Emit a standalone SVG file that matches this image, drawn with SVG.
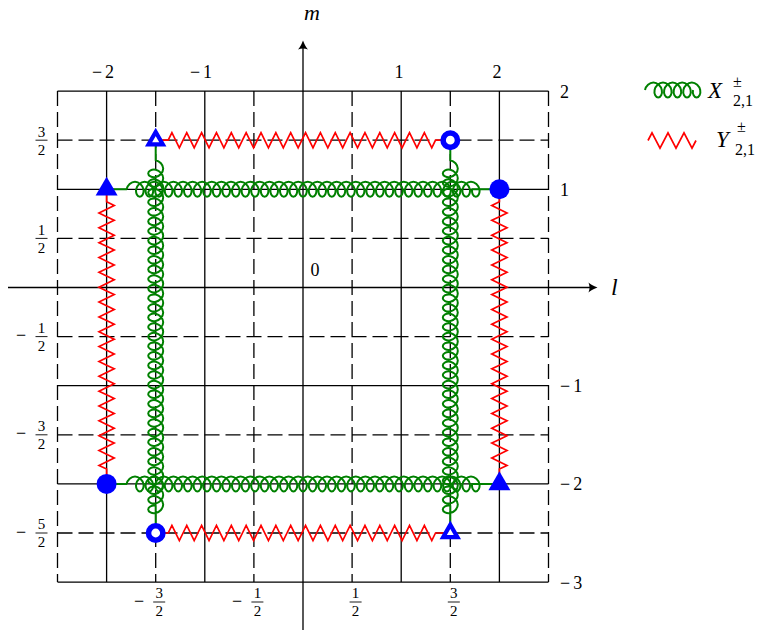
<svg xmlns="http://www.w3.org/2000/svg" width="768" height="630" viewBox="0 0 768 630">
<style>
.g{stroke:#000;stroke-width:1.3;fill:none}
.d{stroke-dasharray:15 6}
.coil{stroke:#008000;stroke-width:2;fill:none;stroke-linejoin:round}
.zig{stroke:#ff0000;stroke-width:1.7;fill:none}
.t{font-family:"Liberation Serif","Times New Roman",serif;font-size:18px;fill:#000}
.f{font-size:15px;text-anchor:middle}
.m{text-anchor:middle}
.i{font-style:italic}
.big{font-size:24px}
.ax{font-size:22px}
.lg{font-size:23px}
.sm{font-size:16px}
.bar{stroke:#000;stroke-width:0.9}
</style>
<defs>
<path id="coil" d="M0,0 H20
c0.8,-3.93 4.46,-7.5 8.4,-7.5 c3.94,0 7.6,3.57 8.4,7.5 c0.8,3.93 -1.26,7.5 -3.6,7.5 c-2.34,0 -4.4,-3.57 -3.6,-7.5 c0.8,-3.93 4.46,-7.5 8.4,-7.5 c3.94,0 7.6,3.57 8.4,7.5 c0.8,3.93 -1.26,7.5 -3.6,7.5 c-2.34,0 -4.4,-3.57 -3.6,-7.5 c0.8,-3.93 4.46,-7.5 8.4,-7.5 c3.94,0 7.6,3.57 8.4,7.5 c0.8,3.93 -1.26,7.5 -3.6,7.5 c-2.34,0 -4.4,-3.57 -3.6,-7.5 c0.8,-3.93 4.46,-7.5 8.4,-7.5 c3.94,0 7.6,3.57 8.4,7.5 c0.8,3.93 -1.26,7.5 -3.6,7.5 c-2.34,0 -4.4,-3.57 -3.6,-7.5 c0.8,-3.93 4.46,-7.5 8.4,-7.5 c3.94,0 7.6,3.57 8.4,7.5 c0.8,3.93 -1.26,7.5 -3.6,7.5 c-2.34,0 -4.4,-3.57 -3.6,-7.5 c0.8,-3.93 4.46,-7.5 8.4,-7.5 c3.94,0 7.6,3.57 8.4,7.5 c0.8,3.93 -1.26,7.5 -3.6,7.5 c-2.34,0 -4.4,-3.57 -3.6,-7.5
c0.8,-3.93 4.46,-7.5 8.4,-7.5 c3.94,0 7.6,3.57 8.4,7.5 c0.8,3.93 -1.26,7.5 -3.6,7.5 c-2.34,0 -4.4,-3.57 -3.6,-7.5 c0.8,-3.93 4.46,-7.5 8.4,-7.5 c3.94,0 7.6,3.57 8.4,7.5 c0.8,3.93 -1.26,7.5 -3.6,7.5 c-2.34,0 -4.4,-3.57 -3.6,-7.5 c0.8,-3.93 4.46,-7.5 8.4,-7.5 c3.94,0 7.6,3.57 8.4,7.5 c0.8,3.93 -1.26,7.5 -3.6,7.5 c-2.34,0 -4.4,-3.57 -3.6,-7.5 c0.8,-3.93 4.46,-7.5 8.4,-7.5 c3.94,0 7.6,3.57 8.4,7.5 c0.8,3.93 -1.26,7.5 -3.6,7.5 c-2.34,0 -4.4,-3.57 -3.6,-7.5 c0.8,-3.93 4.46,-7.5 8.4,-7.5 c3.94,0 7.6,3.57 8.4,7.5 c0.8,3.93 -1.26,7.5 -3.6,7.5 c-2.34,0 -4.4,-3.57 -3.6,-7.5 c0.8,-3.93 4.46,-7.5 8.4,-7.5 c3.94,0 7.6,3.57 8.4,7.5 c0.8,3.93 -1.26,7.5 -3.6,7.5 c-2.34,0 -4.4,-3.57 -3.6,-7.5
c0.8,-3.93 4.46,-7.5 8.4,-7.5 c3.94,0 7.6,3.57 8.4,7.5 c0.8,3.93 -1.26,7.5 -3.6,7.5 c-2.34,0 -4.4,-3.57 -3.6,-7.5 c0.8,-3.93 4.46,-7.5 8.4,-7.5 c3.94,0 7.6,3.57 8.4,7.5 c0.8,3.93 -1.26,7.5 -3.6,7.5 c-2.34,0 -4.4,-3.57 -3.6,-7.5 c0.8,-3.93 4.46,-7.5 8.4,-7.5 c3.94,0 7.6,3.57 8.4,7.5 c0.8,3.93 -1.26,7.5 -3.6,7.5 c-2.34,0 -4.4,-3.57 -3.6,-7.5 c0.8,-3.93 4.46,-7.5 8.4,-7.5 c3.94,0 7.6,3.57 8.4,7.5 c0.8,3.93 -1.26,7.5 -3.6,7.5 c-2.34,0 -4.4,-3.57 -3.6,-7.5 c0.8,-3.93 4.46,-7.5 8.4,-7.5 c3.94,0 7.6,3.57 8.4,7.5 c0.8,3.93 -1.26,7.5 -3.6,7.5 c-2.34,0 -4.4,-3.57 -3.6,-7.5 c0.8,-3.93 4.46,-7.5 8.4,-7.5 c3.94,0 7.6,3.57 8.4,7.5 c0.8,3.93 -1.26,7.5 -3.6,7.5 c-2.34,0 -4.4,-3.57 -3.6,-7.5
c0.8,-3.93 4.46,-7.5 8.4,-7.5 c3.94,0 7.6,3.57 8.4,7.5 c0.8,3.93 -1.26,7.5 -3.6,7.5 c-2.34,0 -4.4,-3.57 -3.6,-7.5 c0.8,-3.93 4.46,-7.5 8.4,-7.5 c3.94,0 7.6,3.57 8.4,7.5 c0.8,3.93 -1.26,7.5 -3.6,7.5 c-2.34,0 -4.4,-3.57 -3.6,-7.5 c0.8,-3.93 4.46,-7.5 8.4,-7.5 c3.94,0 7.6,3.57 8.4,7.5 c0.8,3.93 -1.26,7.5 -3.6,7.5 c-2.34,0 -4.4,-3.57 -3.6,-7.5 c0.8,-3.93 4.46,-7.5 8.4,-7.5 c3.94,0 7.6,3.57 8.4,7.5 c0.8,3.93 -1.26,7.5 -3.6,7.5 c-2.34,0 -4.4,-3.57 -3.6,-7.5 c0.8,-3.93 4.46,-7.5 8.4,-7.5 c3.94,0 7.6,3.57 8.4,7.5 c0.8,3.93 -1.26,7.5 -3.6,7.5 c-2.34,0 -4.4,-3.57 -3.6,-7.5 c0.8,-3.93 4.46,-7.5 8.4,-7.5 c3.94,0 7.6,3.57 8.4,7.5 c0.8,3.93 -1.26,7.5 -3.6,7.5 c-2.34,0 -4.4,-3.57 -3.6,-7.5
c0.8,-3.93 4.46,-7.5 8.4,-7.5 c3.94,0 7.6,3.57 8.4,7.5 c0.8,3.93 -1.26,7.5 -3.6,7.5 c-2.34,0 -4.4,-3.57 -3.6,-7.5 c0.8,-3.93 4.46,-7.5 8.4,-7.5 c3.94,0 7.6,3.57 8.4,7.5 c0.8,3.93 -1.26,7.5 -3.6,7.5 c-2.34,0 -4.4,-3.57 -3.6,-7.5 c0.8,-3.93 4.46,-7.5 8.4,-7.5 c3.94,0 7.6,3.57 8.4,7.5 c0.8,3.93 -1.26,7.5 -3.6,7.5 c-2.34,0 -4.4,-3.57 -3.6,-7.5 c0.8,-3.93 4.46,-7.5 8.4,-7.5 c3.94,0 7.6,3.57 8.4,7.5 c0.8,3.93 -1.26,7.5 -3.6,7.5 c-2.34,0 -4.4,-3.57 -3.6,-7.5 c0.8,-3.93 4.46,-7.5 8.4,-7.5 c3.94,0 7.6,3.57 8.4,7.5 c0.8,3.93 -1.26,7.5 -3.6,7.5 c-2.34,0 -4.4,-3.57 -3.6,-7.5 c0.8,-3.93 4.46,-7.5 8.4,-7.5 c3.94,0 7.6,3.57 8.4,7.5 c0.8,3.93 -1.26,7.5 -3.6,7.5 c-2.34,0 -4.4,-3.57 -3.6,-7.5
c0.8,-3.93 4.46,-7.5 8.4,-7.5 c3.94,0 7.6,3.57 8.4,7.5 c0.8,3.93 -1.26,7.5 -3.6,7.5 c-2.34,0 -4.4,-3.57 -3.6,-7.5 c0.8,-3.93 4.46,-7.5 8.4,-7.5 c3.94,0 7.6,3.57 8.4,7.5 c0.8,3.93 -1.26,7.5 -3.6,7.5 c-2.34,0 -4.4,-3.57 -3.6,-7.5 c0.8,-3.93 4.46,-7.5 8.4,-7.5 c3.94,0 7.6,3.57 8.4,7.5 c0.8,3.93 -1.26,7.5 -3.6,7.5 c-2.34,0 -4.4,-3.57 -3.6,-7.5 c0.8,-3.93 4.46,-7.5 8.4,-7.5 c3.94,0 7.6,3.57 8.4,7.5 c0.8,3.93 -1.26,7.5 -3.6,7.5 c-2.34,0 -4.4,-3.57 -3.6,-7.5 c0.8,-3.93 4.46,-7.5 8.4,-7.5 c3.94,0 7.6,3.57 8.4,7.5 c0.8,3.93 -1.26,7.5 -3.6,7.5 c-2.34,0 -4.4,-3.57 -3.6,-7.5 c0.8,-3.93 4.46,-7.5 8.4,-7.5 c3.94,0 7.6,3.57 8.4,7.5 c0.8,3.93 -1.26,7.5 -3.6,7.5 c-2.34,0 -4.4,-3.57 -3.6,-7.5
H392.8"/>
<path id="zig" d="M0,0 H12.5
l3.71,-7.6 7.43,15.2 3.71,-7.6 l3.71,-7.6 7.43,15.2 3.71,-7.6 l3.71,-7.6 7.43,15.2 3.71,-7.6 l3.71,-7.6 7.43,15.2 3.71,-7.6 l3.71,-7.6 7.43,15.2 3.71,-7.6 l3.71,-7.6 7.43,15.2 3.71,-7.6
l3.71,-7.6 7.43,15.2 3.71,-7.6 l3.71,-7.6 7.43,15.2 3.71,-7.6 l3.71,-7.6 7.43,15.2 3.71,-7.6 l3.71,-7.6 7.43,15.2 3.71,-7.6 l3.71,-7.6 7.43,15.2 3.71,-7.6 l3.71,-7.6 7.43,15.2 3.71,-7.6
l3.71,-7.6 7.43,15.2 3.71,-7.6 l3.71,-7.6 7.43,15.2 3.71,-7.6 l3.71,-7.6 7.43,15.2 3.71,-7.6 l3.71,-7.6 7.43,15.2 3.71,-7.6 l3.71,-7.6 7.43,15.2 3.71,-7.6 l3.71,-7.6 7.43,15.2 3.71,-7.6
H294.6"/>
<polygon id="triF" points="0,-12.6 11,6.3 -11,6.3" fill="#0000ff"/>
<polygon id="triO" points="0,-8.2 7.1,4.1 -7.1,4.1" fill="#fff" stroke="#0000ff" stroke-width="4.2"/>
<circle id="cirF" r="10" fill="#0000ff"/>
<circle id="cirO" r="7.2" fill="#fff" stroke="#0000ff" stroke-width="5.6"/>
</defs>

<g id="grid">
<path class="g" d="M57.5,91.1H548.5M57.5,189.3H548.5M57.5,385.7H548.5M57.5,483.9H548.5M57.5,582.1H548.5M106.6,91.1V582.1M204.8,91.1V582.1M401.2,91.1V582.1M499.4,91.1V582.1"/>
<path class="g d" d="M57.5,140.2H548.5M57.5,238.4H548.5M57.5,336.6H548.5M57.5,434.8H548.5M57.5,533H548.5M57.5,91.1V582.1M155.7,91.1V582.1M253.9,91.1V582.1M352.1,91.1V582.1M450.3,91.1V582.1M548.5,91.1V582.1"/>
</g>
<g id="axes">
<path class="g" d="M8,287.5H592M303,630V46"/>
<path d="M597.5,287.5Q591,285 588.5,282.5Q590.5,287.5 588.5,292.5Q591,290 597.5,287.5Z"/>
<path d="M303,40.5Q300.5,47 298,49.5Q303,47.5 308,49.5Q305.5,47 303,40.5Z"/>
<text class="t i m ax" x="312" y="20">m</text>
<text class="t i big" x="611" y="295">l</text>
<text class="t m" x="315" y="276">0</text>
</g>
<g id="ticklabels">
<text class="t m" x="103" y="78">−<tspan dx="3">2</tspan></text>
<text class="t m" x="201" y="78">−<tspan dx="3">1</tspan></text>
<text class="t m" x="399" y="78">1</text>
<text class="t m" x="497" y="78">2</text>
<text class="t" x="560" y="97.5">2</text>
<text class="t" x="560" y="195.5">1</text>
<text class="t" x="560" y="392">−<tspan dx="3">1</tspan></text>
<text class="t" x="560" y="490">−<tspan dx="3">2</tspan></text>
<text class="t" x="560" y="588.5">−<tspan dx="3">3</tspan></text>
<text class="t f" x="41.5" y="136.5">3</text><line class="bar" x1="35.5" y1="140.2" x2="47.5" y2="140.2"/><text class="t f" x="41.5" y="154.5">2</text>
<text class="t f" x="41.5" y="234.7">1</text><line class="bar" x1="35.5" y1="238.4" x2="47.5" y2="238.4"/><text class="t f" x="41.5" y="252.7">2</text>
<text class="t m" x="21" y="341.2">−</text><text class="t f" x="41.5" y="332.9">1</text><line class="bar" x1="35.5" y1="336.6" x2="47.5" y2="336.6"/><text class="t f" x="41.5" y="350.9">2</text>
<text class="t m" x="21" y="439.4">−</text><text class="t f" x="41.5" y="431.1">3</text><line class="bar" x1="35.5" y1="434.8" x2="47.5" y2="434.8"/><text class="t f" x="41.5" y="449.1">2</text>
<text class="t m" x="21" y="537.6">−</text><text class="t f" x="41.5" y="529.3">5</text><line class="bar" x1="35.5" y1="533" x2="47.5" y2="533"/><text class="t f" x="41.5" y="547.3">2</text>
<text class="t m" x="139" y="606.6">−</text><text class="t f" x="159.2" y="598">3</text><line class="bar" x1="153.2" y1="602" x2="165.2" y2="602"/><text class="t f" x="159.2" y="616.3">2</text>
<text class="t m" x="237.2" y="606.6">−</text><text class="t f" x="257.4" y="598">1</text><line class="bar" x1="251.4" y1="602" x2="263.4" y2="602"/><text class="t f" x="257.4" y="616.3">2</text>
<text class="t f" x="355.6" y="598">1</text><line class="bar" x1="349.6" y1="602" x2="361.6" y2="602"/><text class="t f" x="355.6" y="616.3">2</text>
<text class="t f" x="453.8" y="598">3</text><line class="bar" x1="447.8" y1="602" x2="459.8" y2="602"/><text class="t f" x="453.8" y="616.3">2</text>
</g>

<g id="connectors">
<use href="#coil" class="coil" transform="translate(106.6,189.3)"/>
<use href="#coil" class="coil" transform="translate(106.6,483.9)"/>
<use href="#coil" class="coil" transform="translate(155.7,140.2) rotate(90)"/>
<use href="#coil" class="coil" transform="translate(450.3,140.2) rotate(90)"/>
<use href="#zig" class="zig" transform="translate(155.7,140.2)"/>
<use href="#zig" class="zig" transform="translate(155.7,533)"/>
<use href="#zig" class="zig" transform="translate(106.6,189.3) rotate(90)"/>
<use href="#zig" class="zig" transform="translate(499.4,189.3) rotate(90) scale(1,-1)"/>
</g>

<g id="n1"><use href="#triF" x="106.6" y="189.3"/></g>
<g id="n2"><use href="#triO" x="155.7" y="140.2"/></g>
<g id="n3"><use href="#cirO" x="450.3" y="140.2"/></g>
<g id="n4"><use href="#cirF" x="499.4" y="189.3"/></g>
<g id="n5"><use href="#cirF" x="106.6" y="483.9"/></g>
<g id="n6"><use href="#cirO" x="155.7" y="533"/></g>
<g id="n7"><use href="#triO" x="450.3" y="533"/></g>
<g id="n8"><use href="#triF" x="499.4" y="483.9"/></g>

<g id="legend">
<path class="coil" d="M645,90 c0.8,-3.93 4.46,-7.5 8.4,-7.5 c3.94,0 7.6,3.57 8.4,7.5 c0.8,3.93 -1.26,7.5 -3.6,7.5 c-2.34,0 -4.4,-3.57 -3.6,-7.5 c0.8,-3.93 4.46,-7.5 8.4,-7.5 c3.94,0 7.6,3.57 8.4,7.5 c0.8,3.93 -1.26,7.5 -3.6,7.5 c-2.34,0 -4.4,-3.57 -3.6,-7.5 c0.8,-3.93 4.46,-7.5 8.4,-7.5 c3.94,0 7.6,3.57 8.4,7.5 c0.8,3.93 -1.26,7.5 -3.6,7.5 c-2.34,0 -4.4,-3.57 -3.6,-7.5 c0.8,-3.93 4.46,-7.5 8.4,-7.5 c3.94,0 7.6,3.57 8.4,7.5 c0.8,3.93 -1.26,7.5 -3.6,7.5 c-2.34,0 -4.4,-3.57 -3.6,-7.5 c0.8,-3.93 4.46,-7.5 8.4,-7.5 c3.94,0 7.6,3.57 8.4,7.5 c0.8,3.93 -1.26,7.5 -3.6,7.5 c-2.34,0 -4.4,-3.57 -3.6,-7.5"/>
<text class="t i lg" x="708" y="98">X</text>
<text class="t sm" x="733" y="87">±</text>
<text class="t sm" x="733" y="106">2,1</text>
<path class="zig" d="M648,140.5 l4,-7.6 8,15.2 8,-15.2 8,15.2 8,-15.2 8,15.2 4,-7.6"/>
<text class="t i lg" x="716" y="147">Y</text>
<text class="t sm" x="737" y="132">±</text>
<text class="t sm" x="735" y="155">2,1</text>
</g>
</svg>
